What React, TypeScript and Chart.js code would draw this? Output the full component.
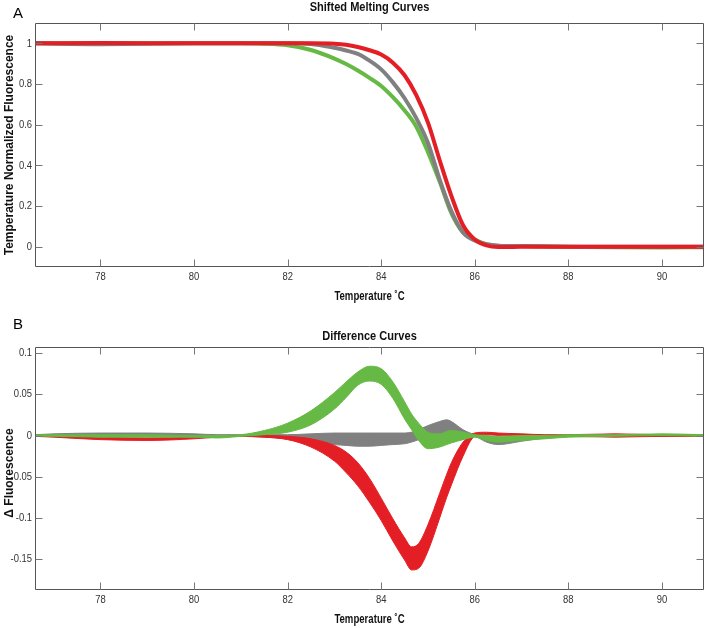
import React, { useEffect, useRef } from 'react';
import { Chart, registerables } from 'chart.js';
Chart.register(...registerables);

// ---------- shared axis ticks ----------
const xTicks = [78, 80, 82, 84, 86, 88, 90];
const xLabels = ['78', '80', '82', '84', '86', '88', '90'];
const yTicksA = [0, 0.2, 0.4, 0.6, 0.8, 1];
const yLabelsA = ['0', '0.2', '0.4', '0.6', '0.8', '1'];
const yTicksB = [-0.15, -0.1, -0.05, 0, 0.05, 0.1];
const yLabelsB = ['-0.15', '-0.1', '-0.05', '0', '0.05', '0.1'];

// ---------- panel A: shifted melting curves ----------
const tA = [76.6, 78, 80, 81, 81.5, 82, 82.5, 83, 83.25, 83.5, 83.75, 84, 84.25, 84.5, 84.75, 85, 85.25, 85.5, 85.75, 86, 86.25, 86.5, 87, 88, 89, 90, 90.9];
const redA = [1, 1.002, 1, 1, 1, 1, 1, 0.998, 0.993, 0.982, 0.966, 0.945, 0.905, 0.843, 0.745, 0.61, 0.425, 0.25, 0.105, 0.035, 0.006, -0.002, -0.001, 0, 0, 0, 0];
const grayA = [1, 0.996, 1, 1, 1, 1, 0.997, 0.978, 0.965, 0.948, 0.915, 0.872, 0.808, 0.73, 0.632, 0.51, 0.33, 0.175, 0.07, 0.03, 0.012, 0.005, 0.003, 0, 0, 0, 0];
const greenA = [1, 1, 1, 1, 0.998, 0.99, 0.967, 0.925, 0.898, 0.866, 0.83, 0.79, 0.735, 0.67, 0.59, 0.465, 0.32, 0.165, 0.07, 0.035, 0.012, 0.005, 0.003, 0, -0.003, -0.004, -0.003];

// ---------- panel B: difference curves (band edges) ----------
const tB = [76.6, 77, 78, 79, 80, 80.5, 81, 81.5, 82, 82.5, 83, 83.25, 83.5, 83.75, 84, 84.25, 84.5, 84.65, 84.8, 85, 85.25, 85.4, 85.5, 85.75, 86, 86.25, 86.5, 87, 87.5, 88, 89, 90, 90.9];
const redHiB = [0.001, 0, -0.002, -0.003, -0.002, -0.001, 0, 0, -0.001, -0.004, -0.012, -0.020, -0.033, -0.052, -0.076, -0.101, -0.124, -0.135, -0.131, -0.108, -0.070, -0.047, -0.033, -0.008, 0.003, 0.004, 0.003, 0.002, 0.001, 0.001, 0.002, 0.001, 0.001];
const redLoB = [-0.001, -0.002, -0.005, -0.006, -0.004, -0.002, -0.001, -0.002, -0.005, -0.014, -0.031, -0.045, -0.061, -0.081, -0.103, -0.128, -0.151, -0.163, -0.161, -0.140, -0.100, -0.075, -0.060, -0.025, -0.001, 0.001, 0, -0.001, -0.001, -0.001, -0.002, -0.001, -0.001];
const grayHiB = [0.001, 0.002, 0.003, 0.003, 0.002, 0.001, 0.001, 0.001, 0.001, 0.002, 0.003, 0.003, 0.003, 0.003, 0.003, 0.003, 0.003, 0.004, 0.007, 0.012, 0.017, 0.019, 0.017, 0.007, 0.001, -0.002, -0.003, -0.001, 0, 0, 0.001, 0.001, 0];
const grayLoB = [-0.001, 0, 0, 0, 0, 0, -0.001, -0.002, -0.004, -0.007, -0.011, -0.012, -0.013, -0.013, -0.012, -0.011, -0.010, -0.008, -0.005, -0.001, 0.002, 0.003, 0.002, 0, -0.001, -0.008, -0.011, -0.007, -0.003, -0.001, -0.001, -0.001, 0];
const greenHiB = [0.001, 0.001, 0.001, 0.001, 0, 0, 0.001, 0.006, 0.015, 0.030, 0.052, 0.065, 0.077, 0.084, 0.081, 0.065, 0.041, 0.026, 0.015, 0.004, 0.002, 0.005, 0.006, 0.004, 0.001, 0, -0.001, 0, 0, 0.001, 0.001, 0.002, 0.001];
const greenLoB = [-0.001, -0.001, -0.002, -0.002, -0.002, -0.003, -0.001, 0.001, 0.004, 0.013, 0.032, 0.046, 0.061, 0.066, 0.062, 0.045, 0.020, 0.007, -0.006, -0.016, -0.014, -0.011, -0.009, -0.005, -0.002, -0.006, -0.008, -0.006, -0.004, -0.002, -0.001, 0, -0.001];

const RED = '#e41e25';
const GRAY = '#808080';
const GREEN = '#66b945';
const SANS = "'Liberation Sans', Arial, sans-serif";

const pts = (xs: number[], ys: number[]) => xs.map((x, i) => ({ x, y: ys[i] }));

function txt(ctx: CanvasRenderingContext2D, s: string, x: number, y: number, font: string,
  align: CanvasTextAlign, color: string, sx: number, rot = 0) {
  ctx.save();
  ctx.font = font;
  ctx.fillStyle = color;
  ctx.textAlign = align;
  ctx.textBaseline = 'middle';
  ctx.translate(x, y);
  if (rot) ctx.rotate(rot);
  ctx.scale(sx, 1);
  ctx.fillText(s, 0, 0);
  ctx.restore();
}

const framePlugin = {
  id: 'frame',
  afterDatasetsDraw(chart: any, _args: any, opts: any) {
    const { ctx, chartArea } = chart;
    const xs = chart.scales.x;
    const ys = chart.scales.y;
    const L = Math.round(chartArea.left) + 0.5;
    const R = Math.round(chartArea.right) - 0.5;
    const T = Math.round(chartArea.top) + 0.5;
    const B = Math.round(chartArea.bottom) - 0.5;
    const cx = (chartArea.left + chartArea.right) / 2;
    ctx.save();
    ctx.strokeStyle = '#555';
    ctx.lineWidth = 1;
    ctx.beginPath();
    ctx.rect(L, T, R - L, B - T);
    ctx.stroke();
    ctx.strokeStyle = '#777';
    ctx.beginPath();
    for (const v of xTicks) {
      const p = Math.round(xs.getPixelForValue(v)) + 0.5;
      ctx.moveTo(p, B); ctx.lineTo(p, B - 7);
      ctx.moveTo(p, T); ctx.lineTo(p, T + 7);
    }
    for (const v of opts.yTicks) {
      const p = Math.round(ys.getPixelForValue(v)) + 0.5;
      ctx.moveTo(L, p); ctx.lineTo(L + 7, p);
      ctx.moveTo(R, p); ctx.lineTo(R - 7, p);
    }
    ctx.stroke();
    ctx.restore();

    const tickFont = `11.5px ${SANS}`;
    xTicks.forEach((v, i) => {
      txt(ctx, xLabels[i], xs.getPixelForValue(v), chartArea.bottom + 10, tickFont, 'center', '#333', 0.82);
    });
    opts.yTicks.forEach((v: number, i: number) => {
      txt(ctx, opts.yLabels[i], chartArea.left - 3, ys.getPixelForValue(v), tickFont, 'right', '#333', 0.82);
    });
    txt(ctx, opts.title, cx, opts.titleY, `bold 13px ${SANS}`, 'center', '#111', 0.85);
    txt(ctx, 'Temperature ˚C', cx, opts.xTitleY, `bold 12px ${SANS}`, 'center', '#111', 0.8);
    txt(ctx, opts.yTitle, 10, opts.yTitleY, `bold 12px ${SANS}`, 'center', '#111', 1, -Math.PI / 2);

    ctx.save();
    ctx.fillStyle = '#000';
    ctx.font = `15px ${SANS}`;
    ctx.textAlign = 'left';
    ctx.textBaseline = 'alphabetic';
    ctx.fillText(opts.letter, opts.lx, opts.ly);
    ctx.restore();
  },
};

function makeOptions(p: {
  padTop: number; title: string; titleY: number; xTitleY: number; yTitle: string; yTitleY: number;
  yMin: number; yMax: number; yTicks: number[]; yLabels: string[];
  letter: string; lx: number; ly: number;
}) {
  return {
    responsive: false,
    animation: false,
    layout: { padding: { left: 35, right: 1, top: p.padTop, bottom: 38 } },
    elements: { point: { radius: 0 } },
    plugins: {
      legend: { display: false },
      tooltip: { enabled: false },
      title: { display: false },
      frame: {
        yTicks: p.yTicks, yLabels: p.yLabels, letter: p.letter, lx: p.lx, ly: p.ly,
        title: p.title, titleY: p.titleY, xTitleY: p.xTitleY, yTitle: p.yTitle, yTitleY: p.yTitleY,
      },
    },
    scales: {
      x: { type: 'linear', display: false, min: 76.6, max: 90.9 },
      y: { type: 'linear', display: false, min: p.yMin, max: p.yMax },
    },
  };
}

const line = (xs: number[], ys: number[], color: string, width: number, fill: any = false) => ({
  data: pts(xs, ys),
  borderColor: color,
  backgroundColor: color,
  borderWidth: width,
  pointRadius: 0,
  fill,
  cubicInterpolationMode: 'monotone',
});

export default function App() {
  const refA = useRef<HTMLCanvasElement>(null);
  const refB = useRef<HTMLCanvasElement>(null);

  useEffect(() => {
    const chartA = new Chart(refA.current as HTMLCanvasElement, {
      type: 'line',
      data: {
        datasets: [
          line(tA, redA, RED, 4),
          line(tA, grayA, GRAY, 4),
          line(tA, greenA, GREEN, 4),
        ],
      },
      options: makeOptions({
        padTop: 23,
        title: 'Shifted Melting Curves', titleY: 7, xTitleY: 297,
        yTitle: 'Temperature Normalized Fluorescence', yTitleY: 145,
        yMin: -0.1, yMax: 1.1, yTicks: yTicksA, yLabels: yLabelsA,
        letter: 'A', lx: 13, ly: 18,
      }) as any,
      plugins: [framePlugin],
    } as any);

    const chartB = new Chart(refB.current as HTMLCanvasElement, {
      type: 'line',
      data: {
        datasets: [
          line(tB, greenLoB, GREEN, 1),
          line(tB, greenHiB, GREEN, 1, '-1'),
          line(tB, redLoB, RED, 1),
          line(tB, redHiB, RED, 1, '-1'),
          line(tB, grayLoB, GRAY, 1),
          line(tB, grayHiB, GRAY, 1, '-1'),
        ],
      },
      options: makeOptions({
        padTop: 37,
        title: 'Difference Curves', titleY: 26, xTitleY: 310,
        yTitle: 'Δ Fluorescence', yTitleY: 163,
        yMin: -0.1873, yMax: 0.1073, yTicks: yTicksB, yLabels: yLabelsB,
        letter: 'B', lx: 13, ly: 19,
      }) as any,
      plugins: [framePlugin],
    } as any);

    return () => { chartA.destroy(); chartB.destroy(); };
  }, []);

  return (
    <div style={{ position: 'absolute', left: 0, top: 0, width: 705, height: 628, background: '#fff' }}>
      <canvas ref={refA} width={705} height={305} style={{ position: 'absolute', left: 0, top: 0, width: 705, height: 305 }} />
      <canvas ref={refB} width={705} height={318} style={{ position: 'absolute', left: 0, top: 310, width: 705, height: 318 }} />
    </div>
  );
}
